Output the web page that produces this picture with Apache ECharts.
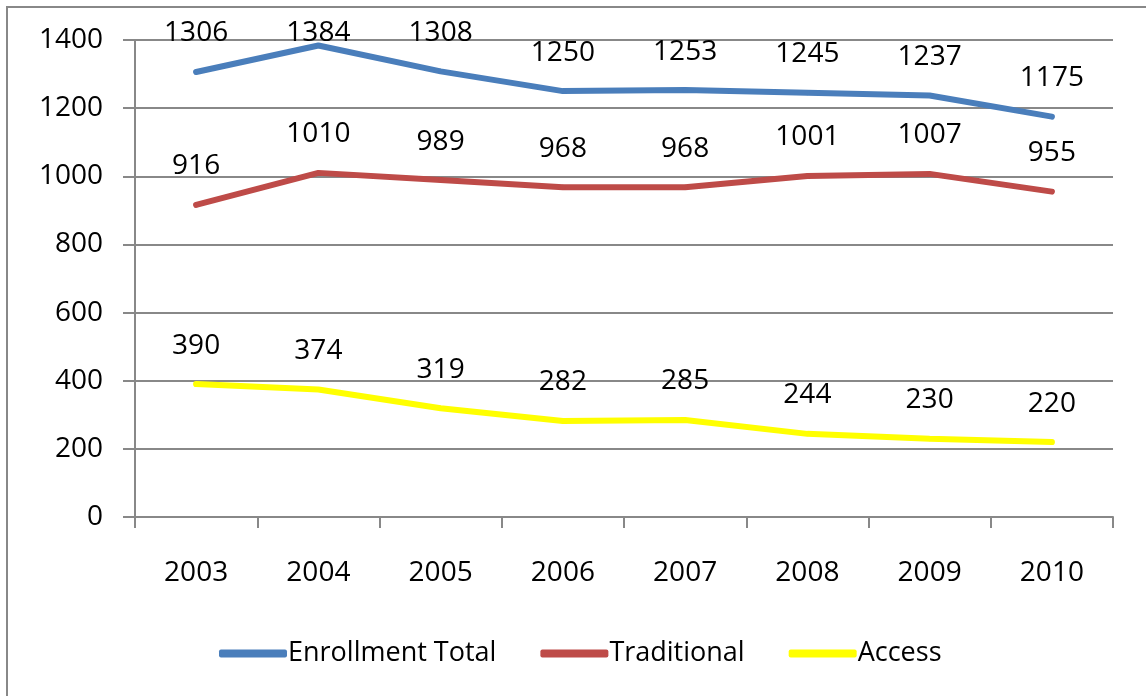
<!DOCTYPE html>
<html>
<head>
<meta charset="utf-8">
<script src="https://cdn.jsdelivr.net/npm/echarts@6/dist/echarts.min.js"></script>
<style>
  html, body { margin: 0; padding: 0; background: #fff; }
  #chart { width: 1146px; height: 696px; }
</style>
</head>
<body>
<div id="chart"></div>
<script>
// data
const years = ["2003", "2004", "2005", "2006", "2007", "2008", "2009", "2010"];
const enrollmentTotal = [1306, 1384, 1308, 1250, 1253, 1245, 1237, 1175];
const traditional = [916, 1010, 989, 968, 968, 1001, 1007, 955];
const access = [390, 374, 319, 282, 285, 244, 230, 220];

const FONT = "'Open Sans', 'Liberation Sans', sans-serif";
const GRID_GREY = "#888";

// labels near the top edge get pushed down (like Excel does)
const mkSeries = (name, values, color, nudged = {}) => ({
  name,
  type: "line",
  data: values.map((v, i) =>
    nudged[i] ? { value: v, label: { offset: [0, nudged[i]] } } : v
  ),
  symbol: "circle",
  symbolSize: 5,
  lineStyle: { width: 6, color, cap: "round" },
  itemStyle: { color, borderWidth: 0 },
  label: {
    show: true,
    position: "top",
    distance: 22,
    color: "#000",
    fontSize: 28,
    fontFamily: FONT,
  },
});

const chart = echarts.init(document.getElementById("chart"));
chart.setOption({
  animation: false,
  graphic: [
    {
      type: "rect",
      shape: { x: 7, y: 7, width: 1300, height: 1000 },
      style: { fill: "none", stroke: GRID_GREY, lineWidth: 2 },
      silent: true,
    },
  ],
  grid: { left: 135, right: 33, top: 40, bottom: 179 },
  legend: {
    left: 214,
    bottom: 24,
    itemWidth: 68,
    itemHeight: 8,
    itemGap: 44,
    icon: "roundRect",
    textStyle: { fontSize: 27, fontFamily: FONT, color: "#000", padding: [0, 0, 0, -4] },
    data: ["Enrollment Total", "Traditional", "Access"],
  },
  xAxis: {
    type: "category",
    data: years,
    boundaryGap: true,
    axisLine: { lineStyle: { color: GRID_GREY, width: 2 } },
    axisTick: { show: true, length: 11, lineStyle: { color: GRID_GREY, width: 2 } },
    axisLabel: { fontSize: 28, fontFamily: FONT, color: "#000", margin: 42 },
  },
  yAxis: {
    type: "value",
    min: 0,
    max: 1400,
    interval: 200,
    axisLine: { show: true, lineStyle: { color: GRID_GREY, width: 2 } },
    axisTick: { show: true, length: 12, lineStyle: { color: GRID_GREY, width: 2 } },
    splitLine: { lineStyle: { color: GRID_GREY, width: 2 } },
    axisLabel: { fontSize: 28, fontFamily: FONT, color: "#000", margin: 32, formatter: (v) => String(v) },
  },
  series: [
    mkSeries("Enrollment Total", enrollmentTotal, "#4A7EBB", { 1: 26 }),
    mkSeries("Traditional", traditional, "#BE4B48"),
    mkSeries("Access", access, "#FFFF00"),
  ],
});
</script>
</body>
</html>
